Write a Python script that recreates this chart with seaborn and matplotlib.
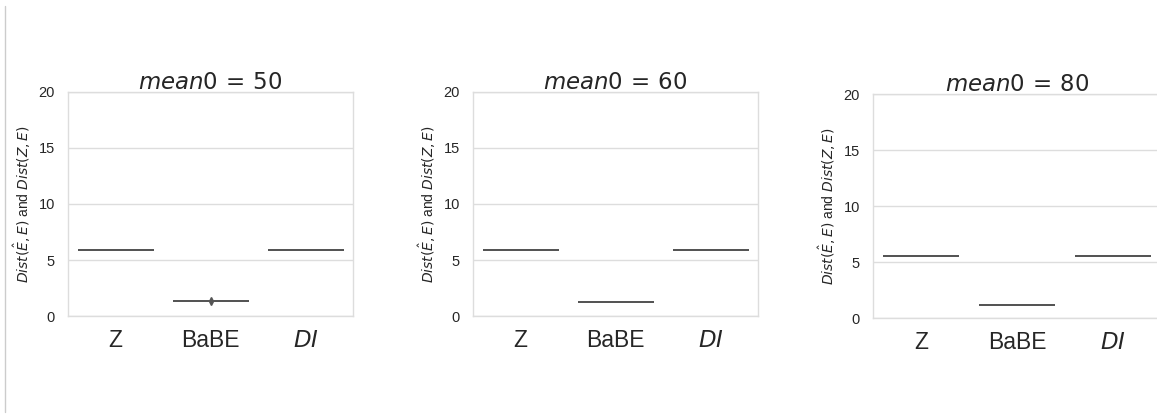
import matplotlib
matplotlib.use("Agg")
import matplotlib.pyplot as plt
import seaborn as sns
import pandas as pd
from matplotlib.lines import Line2D

categories = ["Z", "BaBE", "DI"]
tick_labels = ["Z", "BaBE", "$DI$"]
titles = [r"$mean0\,=\,50$", r"$mean0\,=\,60$", r"$mean0\,=\,80$"]

# per-panel samples (distances)
z_50 = [5.90, 5.90, 5.90, 5.90, 5.90]
babe_50 = [1.30, 1.30, 1.30, 1.30, 1.30, 1.33]
di_50 = [5.90, 5.90, 5.90, 5.90, 5.90]

z_60 = [5.85, 5.85, 5.85, 5.85, 5.85]
babe_60 = [1.27, 1.27, 1.27, 1.27, 1.27]
di_60 = [5.85, 5.85, 5.85, 5.85, 5.85]

z_80 = [5.58, 5.58, 5.58, 5.58, 5.58]
babe_80 = [1.20, 1.20, 1.20, 1.20, 1.20]
di_80 = [5.58, 5.58, 5.58, 5.58, 5.58]

panels = [(z_50, babe_50, di_50), (z_60, babe_60, di_60), (z_80, babe_80, di_80)]

sns.set_theme(style="whitegrid", rc={
    "axes.edgecolor": "#dddddd",
    "grid.color": "#dddddd",
    "axes.linewidth": 1.0,
    "grid.linewidth": 1.0,
})
plt.rcParams["font.family"] = ["Liberation Sans", "DejaVu Sans"]
plt.rcParams["mathtext.fontset"] = "dejavusans"

fig = plt.figure(figsize=(11.57, 4.17), dpi=100)

positions = [
    [68 / 1157, 1 - 316 / 417, 285 / 1157, 224 / 417],
    [473 / 1157, 1 - 316 / 417, 285 / 1157, 224 / 417],
    [873 / 1157, 1 - 318 / 417, 288 / 1157, 224 / 417],
]

for pos, title, (z, b, d) in zip(positions, titles, panels):
    ax = fig.add_axes(pos)
    df = pd.DataFrame({
        "method": ["Z"] * len(z) + ["BaBE"] * len(b) + ["DI"] * len(d),
        "dist": z + b + d,
    })
    sns.boxplot(data=df, x="method", y="dist", order=categories, ax=ax,
                width=0.8, linewidth=1.4, linecolor="#555555",
                flierprops={"marker": "d", "markersize": 4,
                            "markerfacecolor": "#555555",
                            "markeredgecolor": "#555555"})
    ax.set_ylim(0, 20)
    ax.set_yticks([0, 5, 10, 15, 20])
    ax.set_xticks(range(len(categories)))
    ax.set_xticklabels(tick_labels, fontsize=16.5, color="#262626")
    ax.tick_params(axis="y", labelsize=10.5, labelcolor="#262626")
    ax.set_xlabel("")
    ax.set_ylabel(r"$Dist(\hat{E}, E)$ and $Dist(Z, E)$", fontsize=10,
                  color="#262626", labelpad=4)
    ax.set_title(title, fontsize=16.5, pad=2, color="#262626")

fig.add_artist(Line2D([5 / 1157, 5 / 1157], [1 - 412 / 417, 1 - 6 / 417],
                      transform=fig.transFigure, color="#cccccc", linewidth=1))

fig.savefig("out.png", dpi=100)
